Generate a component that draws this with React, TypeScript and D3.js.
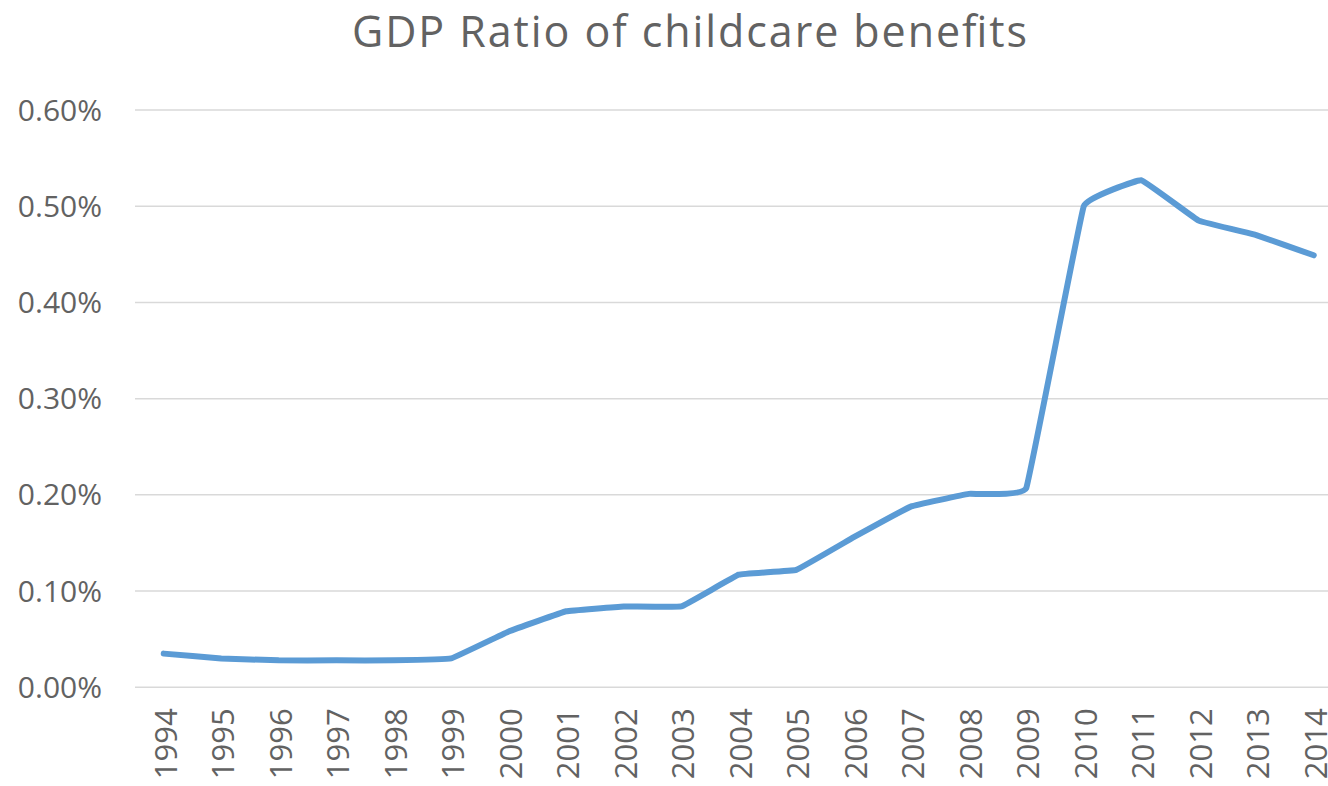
import React from "react";
import * as d3 from "d3";

// Childcare benefits as a share of GDP (%), 1994–2014
const years: string[] = [
  "1994", "1995", "1996", "1997", "1998", "1999", "2000", "2001", "2002", "2003",
  "2004", "2005", "2006", "2007", "2008", "2009", "2010", "2011", "2012", "2013", "2014",
];
const ratioPct: number[] = [
  0.035, 0.030, 0.028, 0.028, 0.028, 0.030, 0.058, 0.079, 0.084, 0.084,
  0.117, 0.122, 0.156, 0.188, 0.201, 0.207, 0.500, 0.527, 0.485, 0.470, 0.449,
];
const yTicks: number[] = [0, 0.1, 0.2, 0.3, 0.4, 0.5, 0.6];
const title = "GDP Ratio of childcare benefits";

const W = 1328;
const H = 786;
const plot = { left: 135, right: 1342.5, top: 110, bottom: 687.3 };
const font = "'Open Sans', 'Segoe UI', sans-serif";
const textColor = "#626262";

export default function App() {
  const x = d3
    .scalePoint<string>()
    .domain(years)
    .range([plot.left, plot.right])
    .padding(0.5);
  const y = d3.scaleLinear().domain([0, 0.6]).range([plot.bottom, plot.top]);

  const line = d3
    .line<number>()
    .x((_, i) => x(years[i]) as number)
    .y((d) => y(d))
    .curve(d3.curveCardinal.tension(0.82));

  return (
    <svg
      width={W}
      height={H}
      style={{ position: "absolute", left: 0, top: 0, background: "#fff" }}
    >
      <text
        x={689.5}
        y={47}
        textAnchor="middle"
        fontFamily={font}
        fontSize={43}
        textLength={675}
        lengthAdjust="spacing"
        fill={textColor}
      >
        {title}
      </text>

      {yTicks.map((t) => (
        <g key={t}>
          <line
            x1={plot.left}
            x2={plot.right}
            y1={y(t)}
            y2={y(t)}
            stroke="#d9d9d9"
            strokeWidth={1.5}
          />
          <text
            x={102}
            y={y(t)}
            dy="0.35em"
            textAnchor="end"
            fontFamily={font}
            fontSize={30}
            fill={textColor}
          >
            {d3.format(".2f")(t) + "%"}
          </text>
        </g>
      ))}

      {years.map((yr) => (
        <text
          key={yr}
          transform={`translate(${(x(yr) as number) + 2},${plot.bottom + 21}) rotate(-90)`}
          dy="0.35em"
          textAnchor="end"
          fontFamily={font}
          fontSize={31}
          fill={textColor}
        >
          {yr}
        </text>
      ))}

      <path
        d={line(ratioPct) ?? ""}
        fill="none"
        stroke="#5b9bd5"
        strokeWidth={6}
        strokeLinecap="round"
        strokeLinejoin="round"
      />
    </svg>
  );
}
